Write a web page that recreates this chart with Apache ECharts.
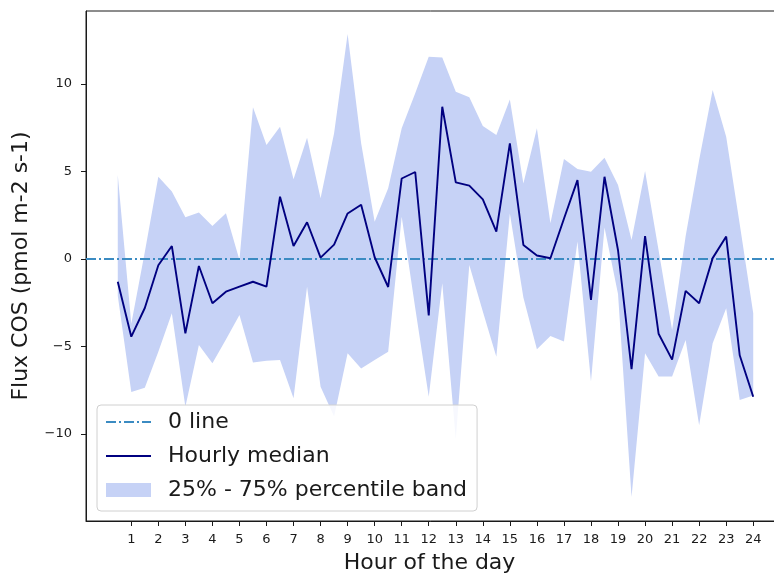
<!DOCTYPE html>
<html>
<head>
<meta charset="utf-8">
<script src="https://cdn.jsdelivr.net/npm/echarts@6/dist/echarts.min.js"></script>
<style>
  html, body { margin: 0; padding: 0; background: #fff; }
  #chart { width: 774px; height: 574px; }
</style>
</head>
<body>
<div id="chart"></div>
<script>
// Half-hourly bins of the day
const hours = [0.5, 1, 1.5, 2, 2.5, 3, 3.5, 4, 4.5, 5, 5.5, 6, 6.5, 7, 7.5, 8,
  8.5, 9, 9.5, 10, 10.5, 11, 11.5, 12, 12.5, 13, 13.5, 14, 14.5, 15, 15.5, 16,
  16.5, 17, 17.5, 18, 18.5, 19, 19.5, 20, 20.5, 21, 21.5, 22, 22.5, 23, 23.5, 24];

// COS flux statistics per bin (pmol m-2 s-1)
const median = [-1.3, -4.44, -2.8, -0.36, 0.74, -4.25, -0.4, -2.53, -1.87, -1.58, -1.3, -1.58,
  3.56, 0.74, 2.1, 0.08, 0.82, 2.6, 3.1, 0.1, -1.6, 4.6, 4.97, -3.22,
  8.7, 4.38, 4.19, 3.41, 1.56, 6.61, 0.8, 0.2, 0.04, 2.3, 4.51, -2.34,
  4.7, 0.5, -6.3, 1.31, -4.27, -5.75, -1.82, -2.53, 0.05, 1.28, -5.5, -7.87];

const q75 = [4.8, -3.7, 0.4, 4.7, 3.85, 2.38, 2.66, 1.89, 2.61, -0.06, 8.67, 6.51,
  7.56, 4.55, 6.93, 3.47, 7.18, 12.86, 6.61, 2.13, 4.04, 7.47, 9.47, 11.56,
  11.52, 9.56, 9.24, 7.6, 7.09, 9.12, 4.32, 7.47, 2.04, 5.71, 5.14, 4.99,
  5.79, 4.23, 1.09, 5.03, 0.5, -4.06, 1.3, 5.66, 9.66, 6.99, 2.0, -3.1];

const q25 = [-2.1, -7.6, -7.35, -5.3, -3.1, -8.44, -4.91, -5.96, -4.6, -3.2, -5.92, -5.81,
  -5.77, -7.96, -1.58, -7.3, -9.0, -5.39, -6.25, -5.77, -5.3, 2.42, -2.8, -7.87,
  -1.39, -10.3, -0.34, -3.0, -5.58, 2.6, -2.2, -5.16, -4.4, -4.72, 1.0, -7.0,
  1.8, -2.0, -13.6, -5.39, -6.72, -6.72, -4.63, -9.5, -4.82, -2.82, -8.06, -7.8];

const xTicks = [1, 2, 3, 4, 5, 6, 7, 8, 9, 10, 11, 12, 13, 14, 15, 16, 17, 18, 19, 20, 21, 22, 23, 24];
const yTicks = [-10, -5, 0, 5, 10];

const X_MIN = -0.675, X_MAX = 25.175;
const Y_MIN = -14.97, Y_MAX = 14.17;

const FONT = 'DejaVu Sans';
const BAND_COLOR = 'rgb(198,210,246)';
const MEDIAN_COLOR = '#000080';
const ZERO_COLOR = '#3b8bc2';
const INK = '#1a1a1a';

const medianPts = hours.map((h, i) => [h, median[i]]);

// Filled polygon between the 25th and 75th percentiles, placed via the axes
function renderBand(params, api) {
  const pts = [];
  for (let i = 0; i < hours.length; i++) pts.push(api.coord([hours[i], q75[i]]));
  for (let i = hours.length - 1; i >= 0; i--) pts.push(api.coord([hours[i], q25[i]]));
  return {
    type: 'polygon',
    shape: { points: pts },
    style: { fill: BAND_COLOR, stroke: null }
  };
}

const chart = echarts.init(document.getElementById('chart'), null, { renderer: 'canvas' });

chart.setOption({
  animation: false,
  backgroundColor: '#fff',
  grid: {
    left: 86, top: 11, right: -11, bottom: 53,
    outerBoundsMode: 'none', containLabel: false,
    show: true, borderColor: INK, borderWidth: 1, backgroundColor: 'transparent'
  },
  xAxis: {
    type: 'value', min: X_MIN, max: X_MAX,
    name: 'Hour of the day', nameLocation: 'middle', nameGap: 31,
    nameTextStyle: { fontFamily: FONT, fontSize: 22, color: INK, padding: [0, 12, 0, 0] },
    axisLine: { show: true, onZero: false, lineStyle: { color: INK, width: 1 } },
    axisTick: { show: true, length: 5, lineStyle: { color: INK }, customValues: xTicks },
    axisLabel: { fontFamily: FONT, fontSize: 13, color: INK, margin: 12, customValues: xTicks },
    splitLine: { show: false }
  },
  yAxis: {
    type: 'value', min: Y_MIN, max: Y_MAX,
    name: 'Flux COS (pmol m-2 s-1)', nameLocation: 'middle', nameGap: 54,
    nameTextStyle: { fontFamily: FONT, fontSize: 22, color: INK },
    axisLine: { show: true, onZero: false, lineStyle: { color: INK, width: 1 } },
    axisTick: { show: true, length: 5, lineStyle: { color: INK }, customValues: yTicks },
    axisLabel: {
      fontFamily: FONT, fontSize: 13, color: INK, margin: 14, customValues: yTicks,
      formatter: v => (v < 0 ? '\u2212' + Math.abs(v) : String(v))
    },
    splitLine: { show: false }
  },
  legend: {
    orient: 'vertical', left: 97, top: 405,
    padding: [6, 10, 10, 8],
    itemWidth: 45, itemHeight: 14, itemGap: 12,
    backgroundColor: 'rgba(255,255,255,0.85)',
    borderColor: '#d0d0d0', borderWidth: 1, borderRadius: 4,
    textStyle: { fontFamily: FONT, fontSize: 22, color: INK, lineHeight: 22, padding: [0, 0, 0, 12] },
    data: [
      { name: '0 line', itemStyle: { opacity: 0 } },
      { name: 'Hourly median', itemStyle: { opacity: 0 } },
      { name: '25% - 75% percentile band', icon: 'rect', itemStyle: { color: BAND_COLOR } }
    ]
  },
  series: [
    {
      name: '25% - 75% percentile band', type: 'custom',
      data: [0], renderItem: renderBand,
      itemStyle: { color: BAND_COLOR },
      silent: true, z: 1
    },
    {
      name: '0 line', type: 'line', data: [[X_MIN, 0], [X_MAX, 0]],
      showSymbol: false, symbol: 'none',
      itemStyle: { color: ZERO_COLOR },
      lineStyle: { color: ZERO_COLOR, width: 2, type: [10, 3, 2, 3] },
      silent: true, z: 3
    },
    {
      name: 'Hourly median', type: 'line', data: medianPts,
      showSymbol: false, symbol: 'none',
      itemStyle: { color: MEDIAN_COLOR },
      lineStyle: { color: MEDIAN_COLOR, width: 1.9 },
      silent: true, z: 4
    }
  ]
});
</script>
</body>
</html>
